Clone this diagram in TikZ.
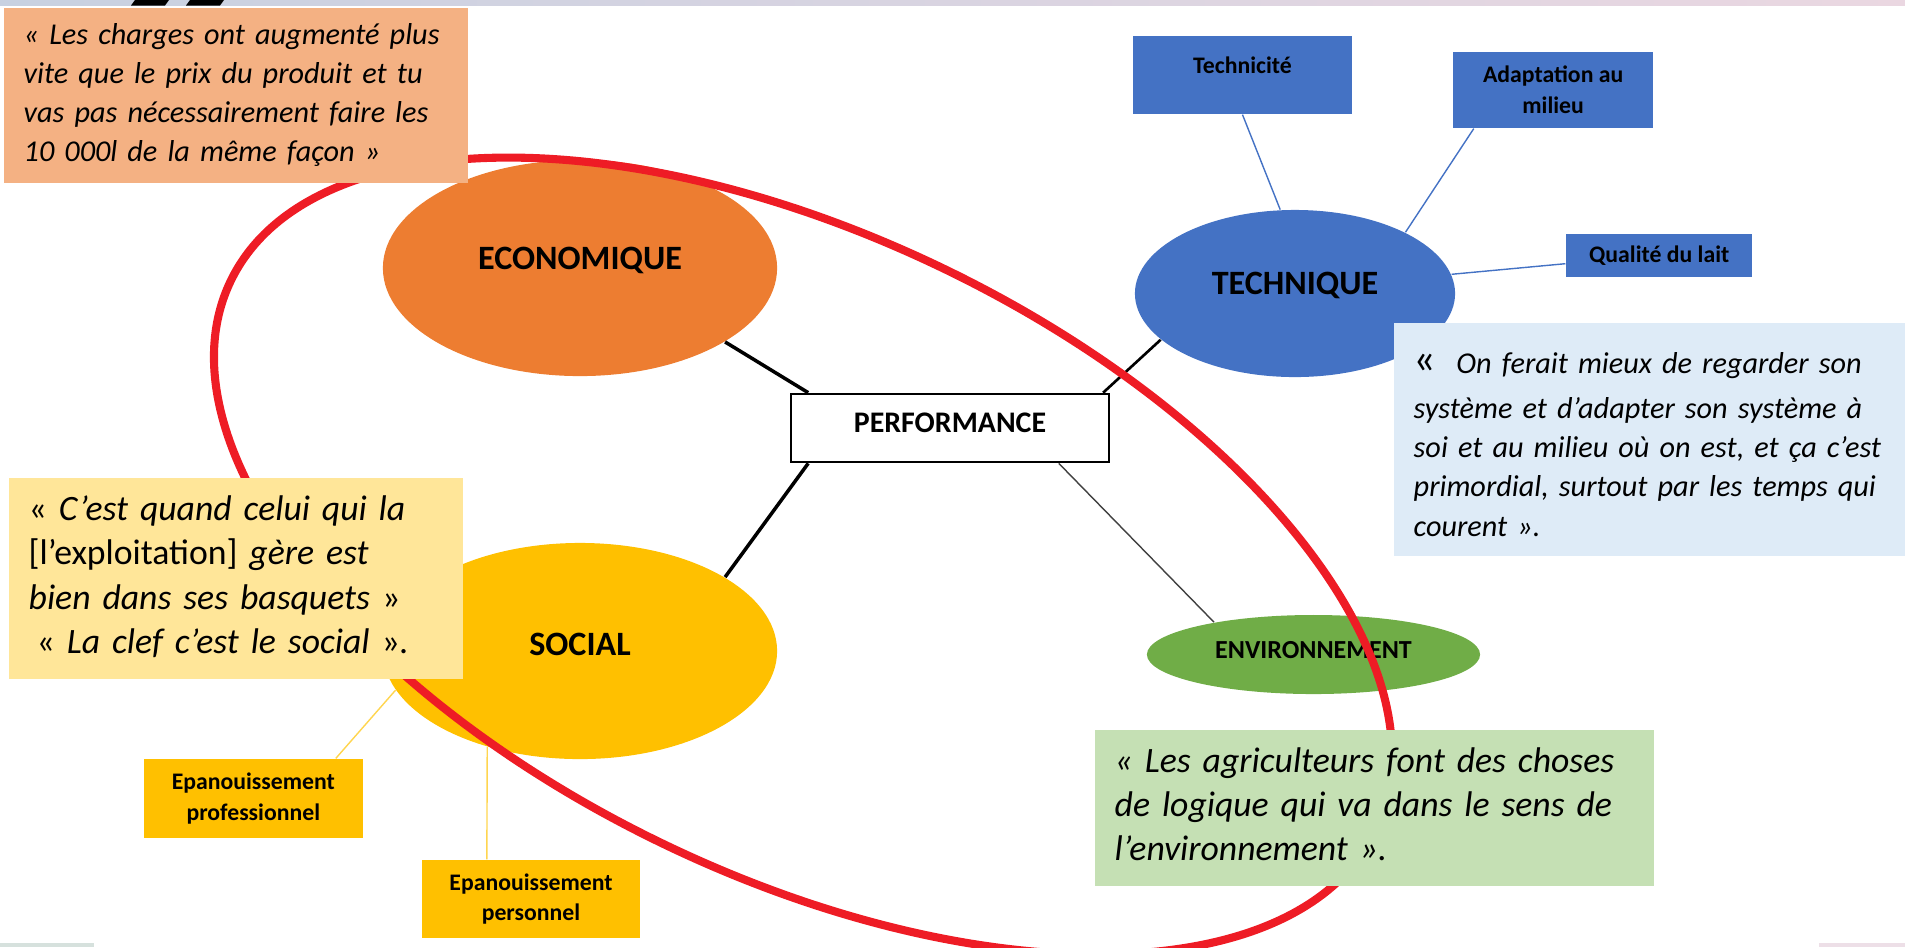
\documentclass[tikz,border=0pt]{standalone}
\usepackage{fontspec}
\setmainfont{Carlito}
\usetikzlibrary{positioning, shapes.geometric}

\definecolor{ecoorange}{HTML}{ED7D31}
\definecolor{techblue}{HTML}{4472C4}
\definecolor{socyellow}{HTML}{FFC000}
\definecolor{envgreen}{HTML}{70AD47}
\definecolor{ringred}{HTML}{EE1C25}
\definecolor{quoteorange}{HTML}{F4B183}
\definecolor{quoteyellow}{HTML}{FFE699}
\definecolor{quotegreen}{HTML}{C5E0B4}
\definecolor{quoteblue}{HTML}{DEEBF7}
\definecolor{twigyellow}{HTML}{FFD54F}
\definecolor{bandleft}{HTML}{C8D1E1}
\definecolor{bandright}{HTML}{EAD7E1}
\definecolor{stripgreen}{HTML}{D6E1DD}
\definecolor{strippink}{HTML}{EDDFE7}

% quote lines, kept as typed (no line breaking)
\newcommand{\qlines}[1]{\begin{tabular}{@{}l@{}}#1\end{tabular}}

\tikzset{
  pillar/.style={ellipse, inner sep=0pt, font=\bfseries\fontsize{9.7}{11}\selectfont}, % the big coloured ellipses
  leaf/.style={rectangle, inner sep=0pt, align=center, font=\bfseries\fontsize{6.75}{8.7}\selectfont}, % criteria boxes
  quotebox/.style={rectangle, anchor=north west, inner xsep=0.2cm, inner ysep=0pt, align=left}, % interview quotes
  small quote/.style={quotebox, font=\itshape\fontsize{8.6}{11.1}\selectfont},
  big quote/.style={quotebox, font=\itshape\fontsize{10.15}{12.6}\selectfont},
  spoke/.style={line width=1pt}, % links to PERFORMANCE
  twig/.style={line width=0.4pt}, % links to the criteria
}

\begin{document}
\begin{tikzpicture}[x=0.01cm, y=-0.01cm, on grid]
  \useasboundingbox (0,0) rectangle (1905,947);

  % slide frame
  \shade[left color=bandleft, right color=bandright] (0,0) rectangle (1905,5.5);
  \fill (135,0) -- (169,0) -- (165,5.5) -- (131,5.5) -- cycle;
  \fill (190,0) -- (224,0) -- (220,5.5) -- (186,5.5) -- cycle;
  \fill[stripgreen] (0,943) rectangle (94,947);
  \fill[strippink] (1819,943) rectangle (1905,947);

  \node[draw, line width=0.75pt, minimum width=3.18cm, minimum height=0.68cm, inner sep=0pt,
        text depth=0.1cm, font=\bfseries\fontsize{8.5}{10}\selectfont] (perf) at (950,428) {PERFORMANCE};
  \node[pillar, fill=ecoorange, minimum width=3.94cm, minimum height=2.16cm, text depth=0.2cm] (eco) at (580,268) {ECONOMIQUE};
  \node[pillar, fill=techblue, minimum width=3.2cm, minimum height=1.67cm, text depth=0.2cm] (tech) at (1295,293.5) {TECHNIQUE};
  \node[pillar, fill=socyellow, minimum width=3.94cm, minimum height=2.16cm, text depth=0.14cm] (soc) at (580,651) {SOCIAL};
  \node[pillar, fill=envgreen, minimum width=3.33cm, minimum height=0.79cm, text depth=0.09cm,
        font=\bfseries\fontsize{7.4}{9}\selectfont] (env) at (1313.5,654.5) {ENVIRONNEMENT};

  \node[leaf, fill=techblue, minimum width=2.19cm, minimum height=0.78cm, text depth=0.2cm, above left=2.185cm and 0.525cm of tech] (techn) {Technicité};
  \node[leaf, fill=techblue, minimum width=2cm, minimum height=0.76cm, above right=2.035cm and 2.58cm of tech] (adapt) {Adaptation au\\milieu};
  \node[leaf, fill=techblue, minimum width=1.86cm, minimum height=0.43cm, above right=0.38cm and 3.64cm of tech] (qual) {Qualité du lait};
  \node[leaf, fill=socyellow, minimum width=2.19cm, minimum height=0.79cm, below left=1.475cm and 3.265cm of soc] (pro) {Epanouissement\\professionnel};
  \node[leaf, fill=socyellow, minimum width=2.18cm, minimum height=0.78cm, below left=2.48cm and 0.49cm of soc] (perso) {Epanouissement\\personnel};

  \draw[spoke] (perf.166.6) -- (eco.-27);
  \draw[spoke, line width=0.75pt] (perf.13.6) -- (tech.199.5);
  \draw[spoke] (perf.194.4) -- (soc.27);
  \draw[twig, draw=black!75] (perf.-18.8) -- (env.162);
  \draw[twig, techblue] (techn.south) -- (tech.100);
  \draw[twig, techblue] (adapt.206.6) -- (tech.29);
  \draw[twig, techblue] (qual.185) -- (tech.7);
  \draw[twig, twigyellow] (pro.26) -- (soc.192);
  \draw[twig, twigyellow] (perso.138) -- (soc.226);

  % the red ring round the three pillars
  \draw[ringred, line width=2.3pt, rotate around={-25.65:(803,556)}] (803,556) ellipse [x radius=635, y radius=320];

  \node[small quote, fill=quoteorange, text width=4.24cm, minimum height=1.75cm] (qeco) at (3,7)
    {\qlines{« Les charges ont augmenté plus\\vite que le prix du produit et tu\\vas pas nécessairement faire les\\10 000l de la même façon »}};
  \node[big quote, fill=quoteyellow, text width=4.14cm, minimum height=2.01cm] (qsoc) at (8,477)
    {\qlines{\textup{«} C’est quand celui qui la\\\textup{[l’exploitation]} gère est\\bien dans ses basquets \textup{»}\\\hspace{0.08cm}\textup{«} La clef c’est le social \textup{»}.}};
  \node[big quote, fill=quotegreen, text width=5.19cm, minimum height=1.56cm] (qenv) at (1094,729)
    {\qlines{« Les agriculteurs font des choses\\de logique qui va dans le sens de\\l’environnement ».}};
  \node[small quote, fill=quoteblue, text width=4.72cm, minimum height=2.33cm] (qtech) at (1393,322)
    {\qlines{\rule{0pt}{0.43cm}{\upshape\fontsize{12.5}{11.1}\selectfont «}\ \ On ferait mieux de regarder son\\[0.06cm]système et d’adapter son système à\\soi et au milieu où on est, et ça c’est\\primordial, surtout par les temps qui\\courent ».}};
\end{tikzpicture}
\end{document}
